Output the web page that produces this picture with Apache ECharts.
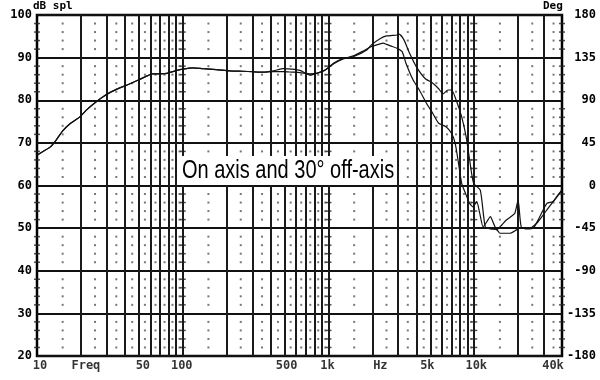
<!DOCTYPE html>
<html><head><meta charset="utf-8">
<script src="https://cdn.jsdelivr.net/npm/echarts@6/dist/echarts.min.js"></script>
<style>html,body{margin:0;padding:0;background:#fff}#c{width:600px;height:380px}</style>
</head><body><div id="c"></div>
<script>
// ---- data ----
const onAxisFreq = [10,11,12.3,13.5,15,17,19.7,22,25,28.4, 32,37,43,50,56,62,70,78,85,91,
  100,117,138,170,210,260,300,355,420,490, 560,636,750,830,950,1080,1260,1480,1830,1970,
  2270,2500,2750,2950,3050,3300,3600,4000,4600,5200, 5700,6100,6600,7000,7500,8200,8800,9300,9900,11000,
  11900,13000,14300,15000,17600,20600,24000,26700,29000,31500, 34600,37000,40000];
const onAxisDb = [67.1,68.0,69.0,70.6,72.8,74.6,76.1,77.8,79.4,80.8, 81.9,82.9,83.8,84.8,85.6,86.2,86.2,86.3,86.7,87.0,
  87.3,87.6,87.4,87.2,86.9,86.8,86.7,86.6,86.9,87.4, 87.3,87.0,85.9,86.3,87.1,88.7,89.8,90.2,91.8,93.0,
  94.5,95.1,95.2,95.3,95.5,94.1,91.0,87.9,85.1,84.0, 82.7,81.5,82.4,82.4,80.1,76.1,71.4,66.0,60.5,58.9,
  50.3,49.8,49.6,48.8,48.8,50.0,50.0,51.1,52.6,54.3, 56.1,57.3,59.0];
const offAxisFreq = [10,11,12.3,13.5,15,17,19.7,22,25,28.4, 32,37,43,50,56,62,70,78,85,91,
  100,117,138,170,210,260,300,355,420,490, 560,636,750,840,950,1080,1260,1480,1700,1970,
  2200,2380,2500,2700,2950,3200,3400,3800,4200,4700, 5200,5700,6400,7000,7400,7800,8200,8700,9300,9800,
  10400,10900,11500,12200,12900,13600,14300,15500,16600,18000, 19000,20000,21000,23000,25400,28000,31500,34600,37000,40000];
const offAxisDb = [67.1,68.0,69.0,70.6,72.8,74.6,76.1,77.8,79.4,80.8, 81.9,82.9,83.8,84.8,85.6,86.2,86.2,86.3,86.7,87.0,
  87.3,87.6,87.4,87.2,86.9,86.8,86.7,86.6,86.7,86.7, 86.6,86.5,86.2,86.4,87.1,88.5,89.7,90.4,91.4,92.6,
  93.1,93.4,93.1,92.7,92.2,91.4,88.7,84.8,82.4,79.3, 76.9,74.6,73.8,72.2,69.9,65.2,60.5,58.2,55.8,55.0,
  56.2,53.5,50.3,51.5,52.7,51.0,49.6,50.8,51.9,52.8, 53.5,56.6,50.3,49.8,50.0,52.5,55.8,56.2,57.5,59.0];
const xTickFreqs = [10,20,50,100,500,1000,2000,5000,10000,40000];
const xTickLabels = ['10','Freq','50','100','500','1k','Hz','5k','10k','40k'];
const gridFreqs = [20,30,40,50,60,70,80,90,100,200,300,400,500,600,700,800,900,1000,
  2000,3000,4000,5000,6000,7000,8000,9000,10000,20000,30000];
const dotFreqs = [15,25,35,45,55,65,75,85,95,150,250,350,450,550,650,750,850,950,
  1500,2500,3500,4500,5500,6500,7500,8500,9500,15000,25000,35000];
const decadeFreqs = [10,100,1000,10000,40000];
const dotLevels = [22,24,26,28,32,34,36,38,42,44,46,48,52,54,56,58,62,64,66,68,72,74,76,78,82,84,86,88,92,94,96,98];
const annotation = 'On axis and 30° off-axis';

// ---- styles ----
const xLabelShift = [3,5,4,-1,2,-1,8,-3,2,-9];
const monoFont = {fontFamily:'DejaVu Sans Mono', fontWeight:'bold', fontSize:12, color:'#000'};

const zip = (a,b) => a.map((v,i)=>[v,b[i]]);
const dots = [];
dotFreqs.forEach(f => dotLevels.forEach(l => dots.push([f,l])));
const dashes = [];
decadeFreqs.forEach(f => dotLevels.forEach(l => dashes.push([f,l])));

const chart = echarts.init(document.getElementById('c'), null, {renderer:'canvas'});
chart.setOption({
  animation:false,
  backgroundColor:'#fff',
  grid:{left:37, right:38, top:15, bottom:24, show:true, borderColor:'#000', borderWidth:2.5, backgroundColor:'transparent'},
  xAxis:{type:'log', logBase:10, min:10, max:40000,
    axisLine:{show:false}, axisTick:{show:false}, axisLabel:{show:false}, splitLine:{show:false}},
  yAxis:[
    {type:'value', min:20, max:100, interval:10, position:'left',
     axisLine:{show:false}, axisTick:{show:false},
     axisLabel:Object.assign({margin:5}, monoFont),
     splitLine:{show:true, lineStyle:{color:'#111', width:2}}},
    {type:'value', min:-180, max:180, interval:45, position:'right',
     axisLine:{show:false}, axisTick:{show:false},
     axisLabel:Object.assign({margin:34, align:'right'}, monoFont),
     splitLine:{show:false}}
  ],
  graphic:[
    {type:'text', left:33, top:1, style:{text:'dB spl', font:'bold 11px "DejaVu Sans Mono"', fill:'#000'}},
    {type:'text', left:543, top:1, style:{text:'Deg', font:'bold 11px "DejaVu Sans Mono"', fill:'#000'}},
    {type:'rect', shape:{x:178, y:156, width:218, height:29}, style:{fill:'#fff'}, z:10},
    {type:'text', x:182, y:159, scaleY:1.25, z:11,
     style:{text:annotation, font:'20px "Liberation Sans"', fill:'#000', verticalAlign:'top', align:'left'}}
  ],
  series:[
    {type:'scatter', name:'grid dots', data:dots, symbol:'rect', symbolSize:2, silent:true,
     itemStyle:{color:'#555'}, z:1,
     markLine:{silent:true, symbol:'none', label:{show:false},
       lineStyle:{color:'#1a1a1a', width:2, type:'solid'},
       data:gridFreqs.map(f=>({xAxis:f}))}},
    {type:'scatter', name:'grid dashes', data:dashes, symbol:'rect', symbolSize:[6,1.5], silent:true,
     itemStyle:{color:'#222'}, z:1},
    {type:'line', name:'On axis', data:zip(onAxisFreq,onAxisDb), showSymbol:false, symbol:'none', smooth:0.2,
     lineStyle:{color:'#111', width:1.2}, z:5},
    {type:'line', name:'30° off-axis', data:zip(offAxisFreq,offAxisDb), showSymbol:false, symbol:'none', smooth:0.2,
     lineStyle:{color:'#111', width:1.2}, z:5},
    {type:'scatter', name:'freq labels', clip:false, silent:true, z:6,
     data:xTickFreqs.map((f,i)=>({value:[f,20], label:{offset:[xLabelShift[i],0]}})),
     symbolSize:1, itemStyle:{color:'rgba(0,0,0,0)'},
     label:Object.assign({show:true, position:'bottom', distance:3,
       formatter:p=>xTickLabels[p.dataIndex]}, monoFont)}
  ]
});
</script></body></html>
